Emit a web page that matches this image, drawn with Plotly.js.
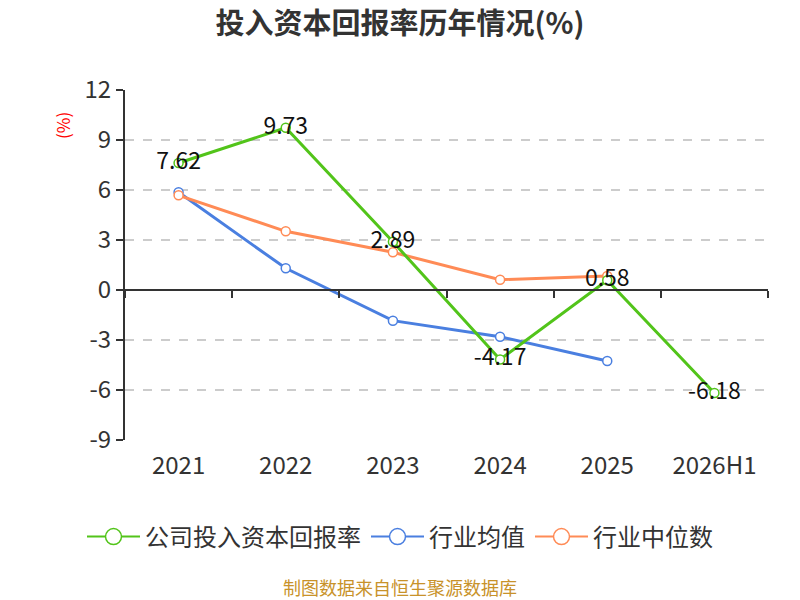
<!DOCTYPE html>
<html>
<head>
<meta charset="utf-8">
<script src="https://cdn.plot.ly/plotly-3.0.1.min.js"></script>
<style>
	body { margin: 0; background: #fff; }
	#chart { width: 800px; height: 600px; }
</style>
</head>
<body>
<div id="chart"></div>
<script>
// Chart data
var years = ["2021", "2022", "2023", "2024", "2025", "2026H1"];
var seriesNames = ["公司投入资本回报率", "行业均值", "行业中位数"];
var companyRoic = [7.62, 9.73, 2.89, -4.17, 0.58, -6.18];
var industryAvg = [5.86, 1.30, -1.84, -2.80, -4.26];
var industryMedian = [5.68, 3.52, 2.26, 0.62, 0.84];
var yTicks = [-9, -6, -3, 0, 3, 6, 9, 12];

var colors = ['#52c41a', '#4a7fe0', '#ff8b56'];
var font = "'Noto Sans CJK SC', 'Noto Sans', sans-serif";

function lineTrace(name, values, color, labels)
{
	var t = {
		name: name,
		x: years.slice(0, values.length),
		y: values,
		type: 'scatter',
		mode: labels ? 'lines+markers+text' : 'lines+markers',
		line: { color: color, width: 3 },
		marker: { symbol: 'circle', size: 9, color: '#ffffff', line: { color: color, width: 1.5 } },
		showlegend: false,
		hoverinfo: 'x+y'
	};
	if (labels)
	{
		t.text = values.map(function (v) { return v.toFixed(2); });
		t.textposition = 'middle center';
		t.textfont = { size: 23, color: '#111111', family: font };
	}
	return t;
}

// empty traces only used for the bigger legend symbols
function legendTrace(name, color)
{
	return {
		name: name,
		x: [null], y: [null],
		type: 'scatter', mode: 'lines+markers',
		line: { color: color, width: 2 },
		marker: { symbol: 'circle', size: 21, color: '#ffffff', line: { color: color, width: 1.5 } },
		hoverinfo: 'skip'
	};
}

// invisible trace that carries the zero-line axis with its boundary ticks
var zeroAxis = {
	x: years, y: years.map(function () { return 0; }),
	xaxis: 'x2', type: 'scatter', mode: 'markers',
	marker: { opacity: 0 }, showlegend: false, hoverinfo: 'skip'
};

var data = [
	lineTrace(seriesNames[1], industryAvg, colors[1], false),
	lineTrace(seriesNames[2], industryMedian, colors[2], false),
	lineTrace(seriesNames[0], companyRoic, colors[0], true),
	zeroAxis,
	legendTrace(seriesNames[0], colors[0]),
	legendTrace(seriesNames[1], colors[1]),
	legendTrace(seriesNames[2], colors[2])
];

var layout = {
	width: 800,
	height: 600,
	margin: { t: 90, b: 160, l: 125, r: 32 },
	paper_bgcolor: '#ffffff',
	plot_bgcolor: '#ffffff',
	font: { family: font, color: '#333333' },
	title: {
		text: "<b>投入资本回报率历年情况(%)</b>",
		font: { size: 29, color: '#333333', family: font },
		x: 0.5, xanchor: 'center',
		y: 0.96, yanchor: 'middle'
	},
	xaxis: {
		type: 'category',
		categoryorder: 'array', categoryarray: years,
		range: [-0.5, 5.5],
		showline: false, showgrid: false, zeroline: false,
		ticks: '',
		tickfont: { size: 24, color: '#333333', family: font },
		ticklabelstandoff: 9,
		automargin: false,
		fixedrange: true
	},
	xaxis2: {
		type: 'category',
		categoryorder: 'array', categoryarray: years,
		range: [-0.5, 5.5],
		overlaying: 'x',
		anchor: 'free',
		position: 9 / 21,
		side: 'bottom',
		showline: true, linecolor: '#333333', linewidth: 2,
		ticks: 'outside', tickson: 'boundaries', ticklen: 7, tickwidth: 2, tickcolor: '#333333',
		showticklabels: false, showgrid: false, zeroline: false,
		fixedrange: true
	},
	yaxis: {
		range: [-9, 12],
		tickvals: yTicks,
		ticktext: yTicks.map(String),
		showline: true, linecolor: '#333333', linewidth: 2,
		ticks: 'outside', ticklen: 7, tickwidth: 2, tickcolor: '#333333',
		showgrid: true, gridcolor: '#cccccc', gridwidth: 1.5, griddash: 'dash',
		zeroline: false,
		tickfont: { size: 24, color: '#333333', family: font },
		automargin: false,
		fixedrange: true
	},
	showlegend: true,
	legend: {
		orientation: 'h',
		xref: 'container', yref: 'container',
		x: 0.5, xanchor: 'center',
		y: 0.105, yanchor: 'middle',
		font: { size: 24, color: '#333333', family: font },
		itemwidth: 53,
		traceorder: 'normal'
	},
	annotations: [
		{
			text: "(%)", textangle: -90,
			xref: 'paper', yref: 'paper',
			x: -0.098, y: 0.9, xanchor: 'center', yanchor: 'middle',
			showarrow: false,
			font: { size: 17, color: '#ff0000', family: font }
		},
		{
			// centred on the page, not on the plot area
			text: "制图数据来自恒生聚源数据库",
			xref: 'paper', yref: 'paper',
			x: 275 / 643, y: -147 / 350, xanchor: 'center', yanchor: 'middle',
			showarrow: false,
			font: { size: 18, color: '#c8922a', family: font }
		}
	]
};

Plotly.newPlot('chart', data, layout, { displayModeBar: false, staticPlot: true });
</script>
</body>
</html>
